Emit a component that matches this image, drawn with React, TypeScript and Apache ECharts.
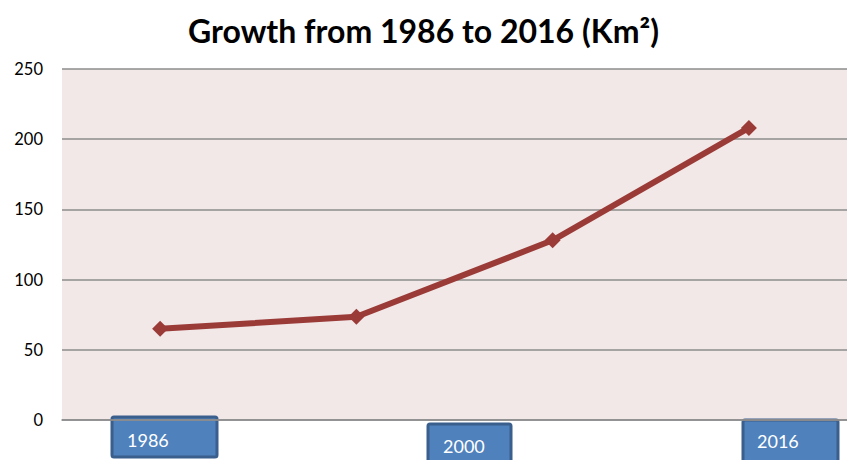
import React, { useEffect, useRef } from "react";
import * as echarts from "echarts";

const categories = ["1986", "1993", "2000", "2016"];
const areaValues = [65, 73.5, 128, 208];
const yTicks = [0, 50, 100, 150, 200, 250];
const boxLabels = ["1986", "2000", "2016"];

export default function App() {
  const ref = useRef<HTMLDivElement>(null);
  useEffect(() => {
    if (!ref.current) return;
    document.body.style.margin = "0";
    document.body.style.overflow = "hidden";
    const chart = echarts.init(ref.current, null, { renderer: "svg" });
    const boxes = [
      { x: 112, y: 417, w: 105, h: 40, tx: 127, ty: 440 },
      { x: 428, y: 424, w: 83, h: 40, tx: 443, ty: 446 },
      { x: 743, y: 420, w: 95, h: 44, tx: 757, ty: 441 },
    ];
    chart.setOption({
      animation: false,
      title: {
        text: "Growth from 1986 to 2016 (Km²)",
        left: "center",
        top: 9,
        textStyle: {
          fontFamily: "Lato",
          fontWeight: "bold",
          fontSize: 32,
          color: "#000",
        },
      },
      grid: {
        left: 62,
        right: 0,
        top: 69,
        bottom: 40,
        show: true,
        backgroundColor: "#f2e8e8",
        borderWidth: 0,
      },
      xAxis: {
        type: "category",
        data: categories,
        boundaryGap: true,
        axisLine: { show: true, lineStyle: { color: "#8c8c8c", width: 1.5 } },
        axisTick: { show: false },
        axisLabel: { show: false },
      },
      yAxis: {
        type: "value",
        min: yTicks[0],
        max: yTicks[yTicks.length - 1],
        interval: 50,
        axisLine: { show: false },
        axisTick: { show: false },
        axisLabel: {
          color: "#000",
          fontFamily: "Lato",
          fontSize: 16.5,
          margin: 19,
        },
        splitLine: { lineStyle: { color: "#8c8c8c", width: 1.5 } },
      },
      series: [
        {
          type: "line",
          data: areaValues,
          symbol: "diamond",
          symbolSize: 16,
          lineStyle: { color: "#9b3b38", width: 6 },
          itemStyle: { color: "#9b3b38" },
        },
      ],
      graphic: boxes.map((b, i) => ({
        type: "group",
        children: [
          {
            type: "rect",
            shape: { x: b.x, y: b.y, width: b.w, height: b.h, r: 2 },
            style: { fill: "#4f81bd", stroke: "#3b5f8c", lineWidth: 3 },
          },
          {
            type: "text",
            x: b.tx,
            y: b.ty,
            style: {
              text: boxLabels[i],
              fill: "#fff",
              fontFamily: "Lato",
              fontSize: 18,
              verticalAlign: "middle",
            },
          },
        ],
      })),
    });
    return () => chart.dispose();
  }, []);
  return (
    <div
      ref={ref}
      style={{ position: "absolute", left: 0, top: 0, width: 847, height: 460 }}
    />
  );
}
